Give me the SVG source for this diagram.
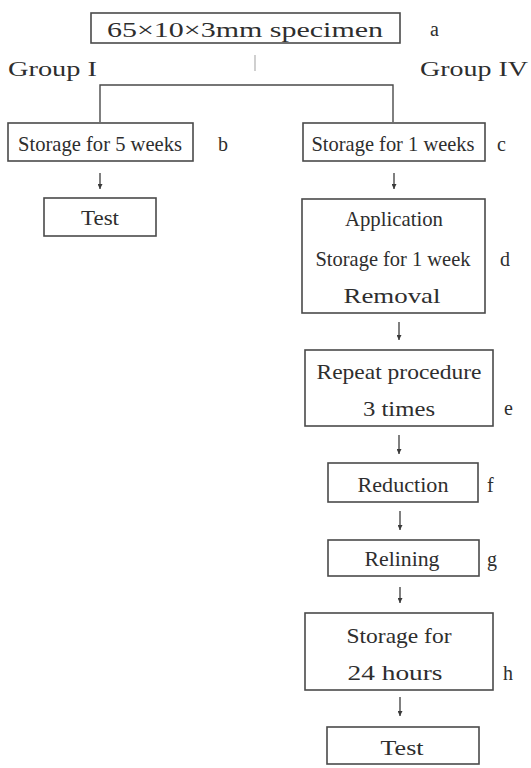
<svg xmlns="http://www.w3.org/2000/svg" width="531" height="768" viewBox="0 0 531 768">
<defs>
<style>
.box{fill:#fff;stroke:#4a4a4a;stroke-width:1.6}
.t{font-family:"Liberation Serif","DejaVu Serif",serif;font-size:21px;fill:#2e2e2e;text-anchor:middle}
.lb{font-family:"Liberation Serif","DejaVu Serif",serif;font-size:20px;fill:#2e2e2e}
.ln{fill:none;stroke:#4a4a4a;stroke-width:1.4}
</style>
<marker id="ah" viewBox="0 0 10 10" refX="10" refY="5" markerWidth="6" markerHeight="5" orient="auto" markerUnits="userSpaceOnUse">
<path d="M0,0 L10,5 L0,10 Z" fill="#3a3a3a"/>
</marker>
</defs>
<rect width="531" height="768" fill="#fff"/>
<g id="connectors">
<line x1="255" y1="55" x2="255" y2="71" style="stroke:#b0b0b0;stroke-width:1.2"/>
<polyline class="ln" points="100,122 100,85 393,85 393,122"/>
<line class="ln" x1="100" y1="173" x2="100" y2="189" marker-end="url(#ah)"/>
<line class="ln" x1="394" y1="173" x2="394" y2="189" marker-end="url(#ah)"/>
<line class="ln" x1="399" y1="322" x2="399" y2="340" marker-end="url(#ah)"/>
<line class="ln" x1="399" y1="435" x2="399" y2="454" marker-end="url(#ah)"/>
<line class="ln" x1="400" y1="511" x2="400" y2="530" marker-end="url(#ah)"/>
<line class="ln" x1="400" y1="587" x2="400" y2="603" marker-end="url(#ah)"/>
<line class="ln" x1="400" y1="697" x2="400" y2="716" marker-end="url(#ah)"/>
</g>
<g id="a">
<rect class="box" x="91" y="13" width="309" height="30"/>
<text class="t" x="245" y="37" font-size="22" textLength="276" lengthAdjust="spacingAndGlyphs">65×10×3mm  specimen</text>
<text class="lb" x="430" y="36">a</text>
</g>
<g id="groups">
<text class="lb" x="8" y="76" textLength="89" lengthAdjust="spacingAndGlyphs">Group  I</text>
<text class="lb" x="420" y="76" textLength="108" lengthAdjust="spacingAndGlyphs">Group  IV</text>
</g>
<g id="b">
<rect class="box" x="8" y="123" width="185" height="38"/>
<text class="t" x="100" y="151" textLength="164" lengthAdjust="spacingAndGlyphs">Storage for 5 weeks</text>
<text class="lb" x="218" y="151">b</text>
</g>
<g id="test1">
<rect class="box" x="44" y="198" width="112" height="38"/>
<text class="t" x="100" y="225" textLength="38" lengthAdjust="spacingAndGlyphs">Test</text>
</g>
<g id="c">
<rect class="box" x="303" y="123" width="182" height="38"/>
<text class="t" x="393" y="151" textLength="163" lengthAdjust="spacingAndGlyphs">Storage for 1 weeks</text>
<text class="lb" x="497" y="151">c</text>
</g>
<g id="d">
<rect class="box" x="302" y="199" width="183" height="114"/>
<text class="t" x="394" y="226" textLength="98" lengthAdjust="spacingAndGlyphs">Application</text>
<text class="t" x="393" y="266" textLength="155" lengthAdjust="spacingAndGlyphs">Storage for 1 week</text>
<text class="t" x="392" y="303" font-size="22" textLength="97" lengthAdjust="spacingAndGlyphs">Removal</text>
<text class="lb" x="500" y="266">d</text>
</g>
<g id="e">
<rect class="box" x="305" y="350" width="188" height="76"/>
<text class="t" x="399" y="379" textLength="165" lengthAdjust="spacingAndGlyphs">Repeat procedure</text>
<text class="t" x="399" y="416" textLength="72" lengthAdjust="spacingAndGlyphs">3 times</text>
<text class="lb" x="504" y="415">e</text>
</g>
<g id="f">
<rect class="box" x="328" y="463" width="150" height="39"/>
<text class="t" x="403" y="492" textLength="91" lengthAdjust="spacingAndGlyphs">Reduction</text>
<text class="lb" x="487" y="492">f</text>
</g>
<g id="g">
<rect class="box" x="328" y="540" width="151" height="36"/>
<text class="t" x="402" y="566" textLength="75" lengthAdjust="spacingAndGlyphs">Relining</text>
<text class="lb" x="487" y="566">g</text>
</g>
<g id="h">
<rect class="box" x="305" y="613" width="188" height="77"/>
<text class="t" x="399" y="643" textLength="105" lengthAdjust="spacingAndGlyphs">Storage for</text>
<text class="t" x="395" y="680" textLength="95" lengthAdjust="spacingAndGlyphs">24 hours</text>
<text class="lb" x="503" y="680">h</text>
</g>
<g id="test2">
<rect class="box" x="327" y="727" width="152" height="37"/>
<text class="t" x="402" y="755" textLength="43" lengthAdjust="spacingAndGlyphs">Test</text>
</g>
</svg>
